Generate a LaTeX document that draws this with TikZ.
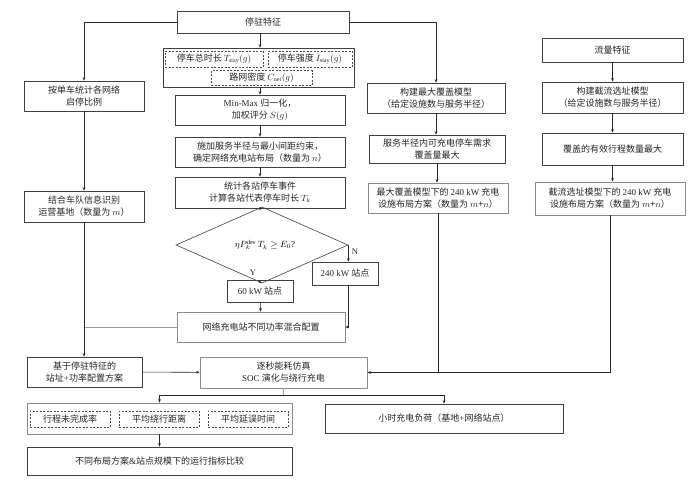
\documentclass[tikz,border=0pt]{standalone}
\usepackage{fontspec}
\setmainfont{Liberation Serif}
\newfontfamily\cjk{Noto Sans CJK SC}
\usetikzlibrary{arrows.meta,shapes.geometric,calc}
\newcommand\lat[1]{{\rmfamily #1}}
\tikzset{
  box/.style 2 args={draw=black!75, line width=0.6pt, minimum width=#1pt, minimum height=#2pt,
    inner sep=1pt, align=center, font=\cjk\fontsize{9}{12}\selectfont, text=black!85},
  gbox/.style 2 args={box={#1}{#2}, draw=black!45},
  dbox/.style 2 args={box={#1}{#2}, draw=black!70, dash pattern=on 2pt off 1.5pt},
  arr/.style={-{Stealth[length=3.5pt,width=2.6pt]}, draw=black!85, line width=0.55pt},
  ln/.style={draw=black!85, line width=0.55pt},
  gln/.style={draw=black!40, line width=0.55pt},
  lbl/.style={font=\rmfamily\fontsize{8.5}{10}\selectfont, text=black!85, inner sep=0pt},
}
\begin{document}
\begin{tikzpicture}[x=1pt,y=-1pt]
\useasboundingbox (0,0) rectangle (700,479);
\fill[white] (0,0) rectangle (700,479);

% centre column
\node[box={172}{22}] (tz) at (263,22) {停驻特征};
\node[box={191}{39}] (feat) at (258.5,67.5) {};
\node[dbox={98}{16}] (d1) at (214,59) {停车总时长 $T_{\mathrm{stay}}(g)$};
\node[dbox={84}{16}] (d2) at (310,59) {停车强度 $I_{\mathrm{stay}}(g)$};
\node[dbox={101}{15}] (d3) at (261.5,78) {路网密度 $C_{\mathrm{net}}(g)$};
\node[box={170}{30}] (mm) at (260,110) {\lat{Min-Max} 归一化，\\加权评分 $S(g)$};
\node[box={170}{30}] (sj) at (260,152) {施加服务半径与最小间距约束，\\确定网络充电站布局（数量为 $n$）};
\node[box={170}{31}] (tj) at (260,192.5) {统计各站停车事件\\计算各站代表停车时长 $T_k$};
\node[draw=black!75, line width=0.6pt, diamond, minimum width=172pt, minimum height=46pt, inner sep=0pt,
      font=\fontsize{9}{11}\selectfont] (dia) at (262,245) {\hspace{6pt}$\eta P^{\mathrm{dev}}_{k}\,T_k \geq E_0$?};
\node[box={66}{22}] (s60) at (260,291) {\lat{60 kW} 站点};
\node[box={66}{23}] (s240) at (345,273.5) {\lat{240 kW} 站点};
\node[gbox={168}{30}] (wl) at (261,327) {网络充电站不同功率混合配置};

% left column
\node[box={120}{30}] (l1) at (84,96) {按单车统计各网络\\启停比例};
\node[box={120}{31}] (l2) at (84,206.5) {结合车队信息识别\\运营基地（数量为 $m$）};
\node[box={115}{30}] (jy) at (84.5,372) {基于停驻特征的\\站址\lat{+}功率配置方案};

% right column 1
\node[box={138}{30}] (r1) at (436,98) {构建最大覆盖模型\\（给定设施数与服务半径）};
\node[box={136}{28}] (r2) at (437,149) {服务半径内可充电停车需求\\覆盖量最大};
\node[gbox={140}{30}] (r3) at (438,198) {最大覆盖模型下的 \lat{240 kW} 充电\\设施布局方案（数量为 $m$+$n$）};

% right column 2
\node[box={141}{24}] (f1) at (612.5,50) {流量特征};
\node[box={141}{31}] (f2) at (612.5,97.5) {构建截流选址模型\\（给定设施数与服务半径）};
\node[box={141}{32}] (f3) at (612.5,149) {覆盖的有效行程数量最大};
\node[gbox={150}{33}] (f4) at (610,198.5) {截流选址模型下的 \lat{240 kW} 充电\\设施布局方案（数量为 $m$+$n$）};

% bottom
\node[gbox={167}{31}] (zm) at (283.5,372.5) {逐秒能耗仿真\\\lat{SOC} 演化与绕行充电};
\node[gbox={265}{31}] (met) at (159.5,418.5) {};
\node[dbox={80}{16}] (m1) at (70,419) {行程未完成率};
\node[dbox={80}{16}] (m2) at (159,419) {平均绕行距离};
\node[dbox={80}{16}] (m3) at (248,419) {平均延误时间};
\node[box={265}{28}] (cmp) at (159.5,461) {不同布局方案\lat{\&}站点规模下的运行指标比较};
\node[box={238}{29}] (load) at (444,418.5) {小时充电负荷（基地\lat{+}网络站点）};

% connectors
\draw[arr] (tz.west) -| (l1.north);
\draw[arr] (tz.east) -| (r1.north);
\draw[arr] (tz.south -| mm.north) -- (feat.north -| mm.north);
\draw[arr] (feat.south -| mm.north) -- (mm.north);
\draw[arr] (mm) -- (sj);
\draw[arr] (sj) -- (tj);
\draw[arr] (tj.south) -- (tj.south |- dia.north);
\draw[arr] (dia.south -| s60.north) -- (s60.north);
\node[lbl] (ly) at (253,273) {Y};
\draw[arr] (dia.east) -- (dia.east |- s240.north);
\node[lbl] (lnn) at (355,252) {N};
\draw[arr] (s60) -- (wl);
\draw[arr] (s240.south -| dia.east) |- (wl.east);
\draw[gln] (wl.west) -- (wl.west -| l2.south);

\draw[arr] (l1) -- (l2);
\draw[arr] (l2.south) -- (l2.south |- jy.north);
\draw[arr] (jy) -- (zm);

\draw[arr] (r1) -- (r1 |- r2.north);
\draw[arr] (r2.south) -- (r2.south |- r3.north);
\draw[ln] (r3.south) -- (r3.south |- zm.east);
\draw[arr] (f1) -- (f2);
\draw[arr] (f2) -- (f3);
\draw[arr] (f3.south) -- (f3.south |- f4.north);
\draw[arr] (f4.south) |- (zm.east);

\coordinate (sp) at ($(zm.south)+(0,7)$);
\draw[gln] (zm.south) -- (sp);
\draw[arr] (sp) -| (met.north);
\draw[arr] (sp) -| (load.north);
\draw[arr] (met) -- (cmp);
\end{tikzpicture}
\end{document}
